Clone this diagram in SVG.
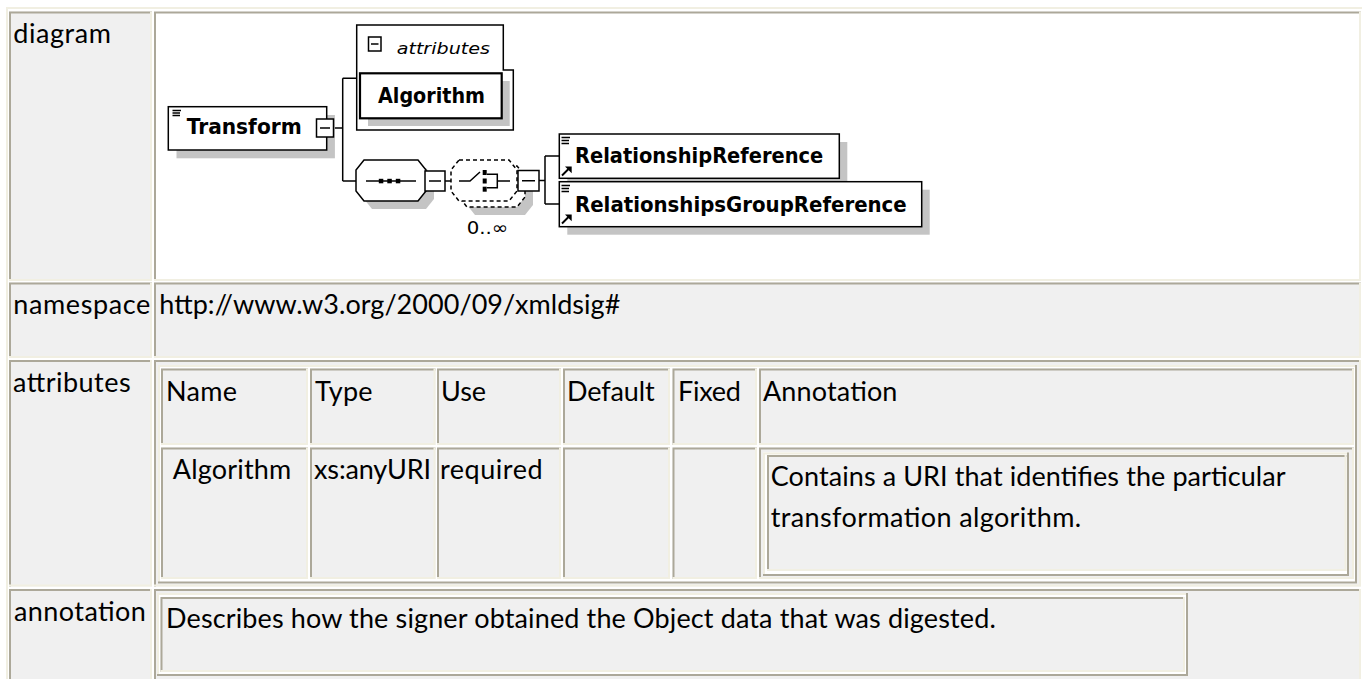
<svg xmlns="http://www.w3.org/2000/svg" width="1362" height="679" viewBox="0 0 1362 679">
<style>
.dk{fill:none;stroke:#aca899;stroke-width:2}
.lt{fill:none;stroke:#f1efe2;stroke-width:2}
.cg{fill:#f0f0f0}
.wh{fill:#ffffff}
.t{font-family:Lato,"Open Sans","Liberation Sans",sans-serif;font-size:27px;fill:#000}
.ln{fill:none;stroke:#000;stroke-width:1.5}
.bx{fill:#fff;stroke:#000;stroke-width:1.5}
.sh{fill:#c4c4c4}
.dsh{fill:#fff;stroke:#000;stroke-width:1.5;stroke-dasharray:4 3}
.bl{font-family:"DejaVu Sans","Liberation Sans",sans-serif;font-weight:bold;font-size:20.5px;fill:#000}
.it{font-family:"DejaVu Sans","Liberation Sans",sans-serif;font-style:italic;font-size:16.5px;fill:#000}
.sm{font-family:"DejaVu Sans","Liberation Sans",sans-serif;font-size:18px;fill:#000}
.blk{fill:#000}
</style>
<rect x="0" y="0" width="1362" height="679" fill="#fff"/>

<g id="table">
  <path class="lt" d="M7,690 V8 H1364"/>
  <!-- row 1 -->
  <rect class="cg" x="9" y="11.5" width="143" height="269.5"/>
  <path class="dk" d="M10,281 V12.5 H152"/><path class="lt" d="M9,280 H151 V11.5"/>
  <rect class="wh" x="154" y="11.5" width="1207" height="269.5"/>
  <path class="dk" d="M155,281 V12.5 H1361"/><path class="lt" d="M154,280 H1360 V11.5"/>
  <!-- row 2 -->
  <rect class="cg" x="9" y="282.5" width="143" height="75.5"/>
  <path class="dk" d="M10,358 V283.5 H152"/><path class="lt" d="M9,357 H151 V282.5"/>
  <rect class="cg" x="154" y="282.5" width="1207" height="75.5"/>
  <path class="dk" d="M155,358 V283.5 H1361"/><path class="lt" d="M154,357 H1360 V282.5"/>
  <!-- row 3 -->
  <rect class="cg" x="9" y="360" width="143" height="226.5"/>
  <path class="dk" d="M10,586.5 V361 H152"/><path class="lt" d="M9,585.5 H151 V360"/>
  <rect class="cg" x="154" y="360" width="1207" height="226.5"/>
  <path class="dk" d="M155,586.5 V361 H1361"/><path class="lt" d="M154,585.5 H1360 V360"/>
  <!-- row 4 -->
  <rect class="cg" x="9" y="589" width="143" height="100"/>
  <path class="dk" d="M10,689 V590 H152"/><path class="lt" d="M151,589 V689"/>
  <rect class="cg" x="154" y="589" width="1207" height="100"/>
  <path class="dk" d="M155,689 V590 H1361"/><path class="lt" d="M1360,589 V689"/>

  <!-- nested attributes table -->
  <rect class="wh" x="158" y="365" width="1199" height="218.5"/>
  <path class="lt" d="M159,583.5 V366 H1357"/><path class="dk" d="M158,582.5 H1356 V365"/>
  <!-- header row cells -->
  <rect class="cg" x="161" y="368.5" width="147" height="76.5"/>
  <path class="dk" d="M162,445 V369.5 H308"/><path class="lt" d="M161,444 H307 V368.5"/>
  <rect class="cg" x="310" y="368.5" width="125.5" height="76.5"/>
  <path class="dk" d="M311,445 V369.5 H435.5"/><path class="lt" d="M310,444 H434.5 V368.5"/>
  <rect class="cg" x="437" y="368.5" width="124" height="76.5"/>
  <path class="dk" d="M438,445 V369.5 H561"/><path class="lt" d="M437,444 H560 V368.5"/>
  <rect class="cg" x="563" y="368.5" width="107" height="76.5"/>
  <path class="dk" d="M564,445 V369.5 H670"/><path class="lt" d="M563,444 H669 V368.5"/>
  <rect class="cg" x="672.5" y="368.5" width="84.5" height="76.5"/>
  <path class="dk" d="M673.5,445 V369.5 H757"/><path class="lt" d="M672.5,444 H756 V368.5"/>
  <rect class="cg" x="759" y="368.5" width="595" height="76.5"/>
  <path class="dk" d="M760,445 V369.5 H1354"/><path class="lt" d="M759,444 H1353 V368.5"/>
  <!-- data row cells -->
  <rect class="cg" x="161" y="447.5" width="147" height="131.5"/>
  <path class="dk" d="M162,579 V448.5 H308"/><path class="lt" d="M161,578 H307 V447.5"/>
  <rect class="cg" x="310" y="447.5" width="125.5" height="131.5"/>
  <path class="dk" d="M311,579 V448.5 H435.5"/><path class="lt" d="M310,578 H434.5 V447.5"/>
  <rect class="cg" x="437" y="447.5" width="124" height="131.5"/>
  <path class="dk" d="M438,579 V448.5 H561"/><path class="lt" d="M437,578 H560 V447.5"/>
  <rect class="cg" x="563" y="447.5" width="107" height="131.5"/>
  <path class="dk" d="M564,579 V448.5 H670"/><path class="lt" d="M563,578 H669 V447.5"/>
  <rect class="cg" x="672.5" y="447.5" width="84.5" height="131.5"/>
  <path class="dk" d="M673.5,579 V448.5 H757"/><path class="lt" d="M672.5,578 H756 V447.5"/>
  <rect class="cg" x="759" y="447.5" width="595" height="131.5"/>
  <path class="dk" d="M760,579 V448.5 H1354"/><path class="lt" d="M759,578 H1353 V447.5"/>
  <!-- annotation box inside attribute row -->
  <rect class="wh" x="763" y="452.5" width="586" height="123.5"/>
  <path class="lt" d="M764,576 V453.5 H1349"/><path class="dk" d="M763,575 H1348 V452.5"/>
  <rect class="cg" x="767" y="455" width="579.5" height="116"/>
  <path class="dk" d="M768,571 V456 H1346.5"/><path class="lt" d="M767,570 H1345.5 V455"/>
  <!-- annotation box in row 4 -->
  <rect class="wh" x="157" y="593" width="1031" height="83"/>
  <path class="lt" d="M158,676 V594 H1188"/><path class="dk" d="M157,675 H1187 V593"/>
  <rect class="cg" x="160.5" y="597" width="1024.5" height="75"/>
  <path class="dk" d="M161.5,672 V598 H1185"/><path class="lt" d="M160.5,671 H1184 V597"/>

  <!-- texts -->
  <text class="t" x="13.3" y="43" textLength="97.7">diagram</text>
  <text class="t" x="13.3" y="313.5" textLength="137">namespace</text>
  <text class="t" x="159.3" y="313.5" textLength="461">http://www.w3.org/2000/09/xmldsig#</text>
  <text class="t" x="13" y="391.5" textLength="117.6">attributes</text>
  <text class="t" x="166" y="401" textLength="71">Name</text>
  <text class="t" x="315" y="401" textLength="57.6">Type</text>
  <text class="t" x="441" y="401" textLength="45.1">Use</text>
  <text class="t" x="567" y="401" textLength="87.6">Default</text>
  <text class="t" x="678" y="401" textLength="62.9">Fixed</text>
  <text class="t" x="763" y="401" textLength="134.4">Annotation</text>
  <text class="t" x="172.7" y="478.5" textLength="118.6">Algorithm</text>
  <text class="t" x="314" y="478.5" textLength="117.1">xs:anyURI</text>
  <text class="t" x="440" y="478.5" textLength="102.6">required</text>
  <text class="t" x="770.7" y="486" textLength="514.9">Contains a URI that identifies the particular</text>
  <text class="t" x="770.7" y="527" textLength="310.5">transformation algorithm.</text>
  <text class="t" x="14" y="620.5" textLength="131.9">annotation</text>
  <text class="t" x="166" y="628" textLength="829.8">Describes how the signer obtained the Object data that was digested.</text>
</g>

<g id="connectors">
  <path class="ln" d="M333.5,128 H342.7"/>
  <path class="ln" d="M342.7,78.3 V181 M342.7,78.3 H356.7 M342.7,181 H356"/>
  <path class="ln" d="M445,181 H451"/>
  <path class="ln" d="M539,180.5 H545 M545,156 V204 M545,156 H559.3 M545,204 H559.3"/>
</g>

<g id="node-transform">
  <rect class="sh" x="176.5" y="115" width="158.4" height="43.3"/>
  <rect class="bx" x="168.3" y="106.7" width="158.4" height="43.3"/>
  <path class="ln" d="M172.5,110.5 H181 M172.5,113 H180 M172.5,115.5 H180"/>
  <text class="bl" x="186.7" y="134" textLength="115" lengthAdjust="spacingAndGlyphs">Transform</text>
  <rect class="bx" x="316.5" y="119" width="17" height="18"/>
  <path class="ln" d="M320,128 H330"/>
</g>

<g id="node-attributes">
  <path class="bx" d="M356.7,25 H503.3 V70 H513.3 V130 H356.7 Z"/>
  <rect class="bx" x="368.5" y="37" width="12.5" height="14"/>
  <path class="ln" d="M371,44 H378.5"/>
  <text class="it" x="396.7" y="54" textLength="93.3" lengthAdjust="spacingAndGlyphs">attributes</text>
</g>

<g id="node-algorithm">
  <rect class="sh" x="368" y="81" width="141.7" height="45"/>
  <rect x="360" y="73.3" width="141.7" height="45" fill="#fff" stroke="#000" stroke-width="2.2"/>
  <text class="bl" x="378" y="102.7" textLength="107" lengthAdjust="spacingAndGlyphs">Algorithm</text>
</g>

<g id="node-sequence">
  <polygon class="sh" points="372,168 426,168 434,178 434,199 426,209 372,209 364,199 364,178"/>
  <polygon class="bx" points="364,160 418,160 426,170 426,191 418,201 364,201 356,191 356,170"/>
  <path class="ln" d="M366,181 H416"/>
  <rect class="blk" x="378.8" y="178.8" width="4.5" height="4.5"/>
  <rect class="blk" x="387.3" y="178.8" width="4.5" height="4.5"/>
  <rect class="blk" x="395.8" y="178.8" width="4.5" height="4.5"/>
  <rect class="bx" x="425" y="171" width="20" height="20"/>
  <path class="ln" d="M429,181 H441"/>
</g>

<g id="node-choice">
  <polygon class="sh" points="475,174 525,174 533,184 533,205 525,215 475,215 467,205 467,184"/>
  <polygon class="dsh" points="467,166 517,166 525,176 525,197 517,207 467,207 459,197 459,176"/>
  <polygon class="dsh" points="459,160 509,160 517,170 517,191 509,201 459,201 451,191 451,170"/>
  <path class="ln" d="M459,181 H470 L480,172"/>
  <rect class="blk" x="482.7" y="170" width="4" height="5"/>
  <rect class="blk" x="482.7" y="178.5" width="4" height="5"/>
  <rect class="blk" x="482.7" y="186.7" width="4" height="5"/>
  <path class="ln" d="M487,174.3 H497.3 V187.7 H487 M497.3,181 H510"/>
  <rect class="bx" x="518" y="170.5" width="21" height="20.5"/>
  <path class="ln" d="M522,180.75 H535"/>
  <text class="sm" x="466.7" y="233.5" textLength="41.6" lengthAdjust="spacingAndGlyphs">0..∞</text>
</g>

<g id="node-relationshipreference">
  <rect class="sh" x="567.3" y="142" width="280" height="44.3"/>
  <rect class="bx" x="559.3" y="134" width="280" height="44.3"/>
  <path class="ln" d="M561.5,137.5 H570 M561.5,140.5 H569 M561.5,143.5 H569"/>
  <path d="M562,175.5 L568.5,169" fill="none" stroke="#000" stroke-width="2"/>
  <polygon class="blk" points="565,166.5 571.7,166.5 571.7,173.2"/>
  <text class="bl" x="575" y="163.3" textLength="248.3" lengthAdjust="spacingAndGlyphs">RelationshipReference</text>
</g>

<g id="node-relationshipsgroupreference">
  <rect class="sh" x="567.3" y="189.7" width="362.4" height="45"/>
  <rect class="bx" x="559.3" y="181.7" width="362.4" height="45"/>
  <path class="ln" d="M561.5,185.5 H570 M561.5,188.5 H569 M561.5,191.5 H569"/>
  <path d="M562,223.5 L568.5,217" fill="none" stroke="#000" stroke-width="2"/>
  <polygon class="blk" points="565,214.5 571.7,214.5 571.7,221.2"/>
  <text class="bl" x="575" y="211.7" textLength="331.7" lengthAdjust="spacingAndGlyphs">RelationshipsGroupReference</text>
</g>
</svg>
